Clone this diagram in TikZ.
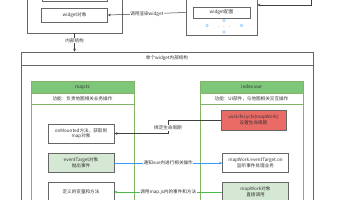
\documentclass[tikz,border=0pt]{standalone}
\usepackage{fontspec}
\setmainfont{Noto Sans CJK SC}
\usetikzlibrary{arrows.meta, positioning}
\definecolor{panelGreen}{HTML}{82B366}
\definecolor{headGreen}{HTML}{7DC67A}
\definecolor{softGreen}{HTML}{D5E8D4}
\definecolor{hotRed}{HTML}{EA6B66}
\definecolor{linkBlue}{HTML}{3399FF}
\definecolor{linkGreen}{HTML}{4CBB4C}
\definecolor{frameGray}{HTML}{666666}

\begin{document}
\begin{tikzpicture}[x=1pt, y=-1pt,
    every node/.style={font=\fontsize{4.6}{5.6}\selectfont, text=black!80},
    frame/.style={rectangle, draw=frameGray, line width=0.6pt, fill=white, inner sep=0pt},
    card/.style={rectangle, draw=frameGray, line width=0.6pt, fill=white,
                 minimum width=66pt, minimum height=19pt, align=center, inner sep=1pt},
    headbar/.style={rectangle, draw=panelGreen, fill=headGreen, line width=0.6pt,
                 minimum width=103pt, minimum height=12pt, inner sep=0pt},
    subbar/.style={rectangle, draw=panelGreen, fill=white, line width=0.6pt,
                 minimum width=103pt, minimum height=11pt, inner sep=0pt},
    panel/.style={rectangle, draw=panelGreen, line width=0.6pt, inner sep=0pt},
    link/.style={line width=0.5pt, draw=black!75, -{Stealth[length=3pt, width=2.6pt]}},
    tag/.style={fill=white, inner sep=0.6pt},
    handle/.style={circle, draw=linkBlue!70, line width=0.4pt, minimum size=2.6pt, inner sep=0pt},
  ]
    \useasboundingbox (0,0) rectangle (356,200);
    \fill[white] (0,0) rectangle (356,200);

    \node[frame, minimum width=95pt, minimum height=60pt] (appOuter) at (74.5,3) {};
    \node[frame, minimum width=65pt, minimum height=21pt] (appTop) at (74.5,-9.5) {};
    \node[card, minimum height=14pt] (widgetObj) at (74.5,15) {widget对象};

    \node[frame, minimum width=71pt, minimum height=60pt] (cfgOuter) at (221.5,5) {};
    \node[card, minimum width=57pt, minimum height=11pt] (widgetCfg) at (221.5,12.5) {widget配置};
    \node (cfgDots) at (224,27.5) {$\cdot\,\cdot\,\cdot$};
    \node[handle] (hW) at (207,25.5) {};
    \node[handle] (hE) at (241.5,25.5) {};
    \node[handle] (hN) at (224,20.5) {};
    \node[handle] (hS) at (224,32) {};

    \coordinate (feed) at (311,-5);
    \draw[link] (feed) |- (cfgOuter.east);
    \draw[link] (widgetCfg.west -| cfgOuter.west) -- node[tag] {调用渲染widget} (widgetObj.east);

    \node[frame, minimum width=292pt, minimum height=160pt] (whole) at (167,132) {};
    \node[frame, minimum width=292pt, minimum height=13pt] (wholeHead) at (167,58.5) {单个widget内部结构};
    \draw[link] (appOuter.south) -- node[tag, pos=0.4] {内部结构} (wholeHead.north -| appOuter.south);

    \node[panel, minimum width=103pt, minimum height=129pt] (mapPanel) at (82.5,145.5) {};
    \node[headbar] (mapHead) at (82.5,87) {map.ts};
    \node[subbar, below=0pt of mapHead] (mapSub) {功能：负责地图相关业务操作};

    \node[panel, minimum width=103pt, minimum height=129pt] (vuePanel) at (251.5,145.5) {};
    \node[headbar] (vueHead) at (251.5,87) {index.vue};
    \node[subbar, below=0pt of vueHead] (vueSub) {功能：UI部件，与地图相关交互操作};

    \node[card] (onMounted) at (81,133.5) {onMounted方法，获取到\\map对象};
    \node[card, fill=softGreen] (eventTgt) at (81,163) {eventTarget对象\\抛出事件};
    \node[card] (defVars) at (81,192) {定义的变量和方法};

    \node[card, fill=hotRed, minimum width=65pt, minimum height=20pt] (lifecycle) at (253.5,120) {useLifecycle(mapWork)\\设置生命周期};
    \node[card] (eventOn) at (255.5,163) {mapWork.eventTarget.on\\监听事件处理业务};
    \node[card, fill=softGreen] (mapWork) at (255.5,192) {mapWork对象\\直接调用};

    \coordinate (lifeBend) at (168,120);
    \draw[link] (lifecycle.west) -- (lifeBend) |- node[tag, pos=0.3] {绑定生命周期} (onMounted.east);
    \draw[link, draw=linkBlue] (eventTgt.east) -- node[tag] {通知vue内进行相关操作} (eventOn.west);
    \draw[link, draw=linkGreen] (mapWork.west) -- node[tag] {调用map.js内的事件和方法} (defVars.east);
  \end{tikzpicture}
\end{document}
